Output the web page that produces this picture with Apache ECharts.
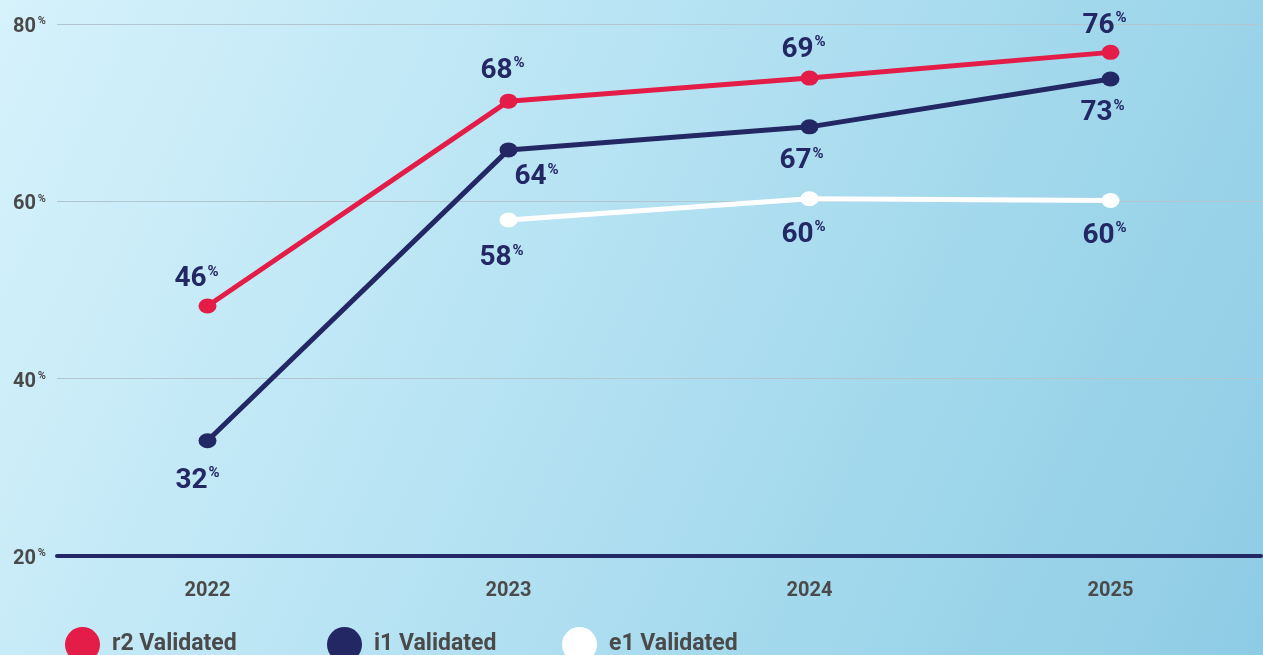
<!DOCTYPE html>
<html style="height: 100%">
<head>
    <meta charset="utf-8">
    <script src="https://cdn.jsdelivr.net/npm/echarts@6/dist/echarts.min.js"></script>
</head>
<body style="height: 100%; margin: 0">
<div id="container" style="height: 100%; background: linear-gradient(115deg, #d6f2fb 0%, #b9e4f4 40%, #a2d8ec 70%, #8ecce5 100%);"></div>
<script type="text/javascript">
var years = ['2022', '2023', '2024', '2025'];
var yTicks = [20, 40, 60, 80];

// plotted positions and the printed labels
var r2Values = [48.2, 71.3, 73.9, 76.8];
var r2Labels = ['46', '68', '69', '76'];
var i1Values = [33.0, 65.8, 68.4, 73.8];
var i1Labels = ['32', '64', '67', '73'];
var e1Values = [null, 57.9, 60.3, 60.1];
var e1Labels = ['', '58', '60', '60'];

var NAVY = '#232865';
var RED = '#e31c48';
var GREY = '#4a4a4a';
var FONT = 'Roboto';

var labelRich = {
    n: { fontFamily: FONT, fontWeight: 'bold', fontSize: 28, color: NAVY, lineHeight: 30 },
    p: { fontFamily: FONT, fontWeight: 'bold', fontSize: 15, color: NAVY, lineHeight: 30, verticalAlign: 'top', padding: [0, 0, 12, 1] }
};

function makeData(values, labels, pos) {
    var out = [];
    for (var i = 0; i < values.length; i++) {
        if (values[i] == null) { out.push(null); continue; }
        var p = pos[i];
        out.push({
            value: values[i],
            label: {
                position: p.position,
                distance: p.distance,
                offset: p.offset,
                formatter: '{n|' + labels[i] + '}{p|%}'
            }
        });
    }
    return out;
}

var r2Pos = [
    { position: 'top', distance: 4, offset: [-11, 0] },
    { position: 'top', distance: 8, offset: [-6, 0] },
    { position: 'top', distance: 6, offset: [-6, 0] },
    { position: 'top', distance: 4, offset: [-6, 0] }
];
var i1Pos = [
    { position: 'bottom', distance: 18, offset: [-10, 0] },
    { position: 'bottom', distance: 5, offset: [28, 0] },
    { position: 'bottom', distance: 12, offset: [-8, 0] },
    { position: 'bottom', distance: 12, offset: [-8, 0] }
];
var e1Pos = [
    null,
    { position: 'bottom', distance: 16, offset: [-7, 0] },
    { position: 'bottom', distance: 14, offset: [-6, 0] },
    { position: 'bottom', distance: 13, offset: [-6, 0] }
];

function series(name, color, values, labels, pos) {
    return {
        name: name,
        type: 'line',
        data: makeData(values, labels, pos),
        symbol: 'circle',
        symbolSize: [18, 15],
        showAllSymbol: true,
        connectNulls: false,
        lineStyle: { color: color, width: 5 },
        itemStyle: { color: color },
        label: { show: true, rich: labelRich },
        emphasis: { disabled: true },
        z: 3
    };
}

function legend(name, left) {
    return {
        data: [{ name: name, icon: 'circle' }],
        left: left,
        top: 627,
        itemWidth: 35,
        itemHeight: 35,
        itemGap: 0,
        padding: 0,
        textStyle: { fontFamily: FONT, fontWeight: 'bold', fontSize: 23, color: GREY, padding: [0, 0, 0, 7] }
    };
}

var dom = document.getElementById('container');
var myChart = echarts.init(dom, null, { renderer: 'canvas' });
var option = {
    backgroundColor: 'transparent',
    animation: false,
    grid: { left: 57, right: 2, top: 24, bottom: 99 },
    legend: [
        legend('r2 Validated', 65),
        legend('i1 Validated', 327),
        legend('e1 Validated', 562)
    ],
    xAxis: {
        type: 'category',
        data: years,
        boundaryGap: true,
        axisLine: { lineStyle: { color: NAVY, width: 4 } },
        axisTick: { show: false },
        axisLabel: { margin: 25, fontFamily: FONT, fontWeight: 'bold', fontSize: 20, color: GREY }
    },
    yAxis: {
        type: 'value',
        min: yTicks[0],
        max: yTicks[yTicks.length - 1],
        interval: 20,
        axisLine: { show: false },
        axisTick: { show: false },
        splitLine: { lineStyle: { color: '#b3c6cf', width: 1 } },
        axisLabel: {
            margin: 11,
            padding: [6, 0, 0, 0],
            formatter: function (v) { return '{n|' + v + '}{p|%}'; },
            rich: {
                n: { fontFamily: FONT, fontWeight: 'bold', fontSize: 20, color: GREY, lineHeight: 22 },
                p: { fontFamily: FONT, fontWeight: 'bold', fontSize: 11, color: GREY, lineHeight: 22, verticalAlign: 'top', padding: [0, 0, 7, 2] }
            }
        }
    },
    series: [
        series('r2 Validated', RED, r2Values, r2Labels, r2Pos),
        series('i1 Validated', NAVY, i1Values, i1Labels, i1Pos),
        series('e1 Validated', '#ffffff', e1Values, e1Labels, e1Pos)
    ]
};
myChart.setOption(option, true);
</script>
</body>
</html>
